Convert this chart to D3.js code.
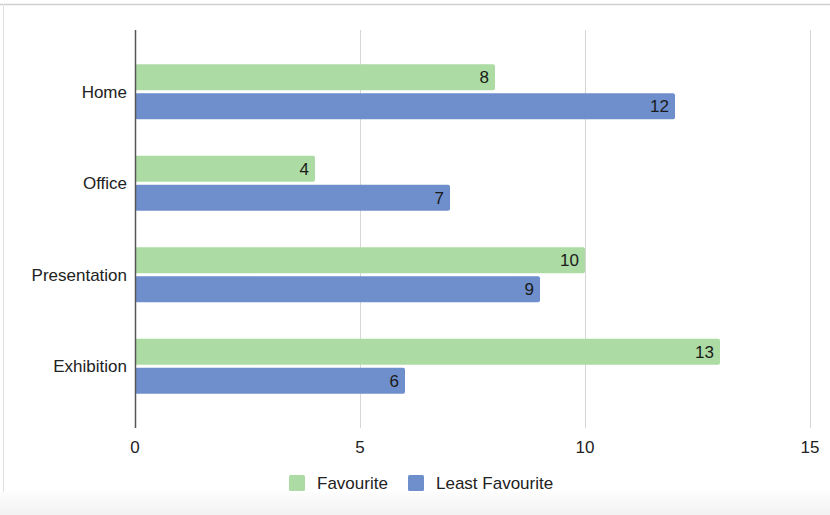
<!DOCTYPE html>
<html>
<head>
<meta charset="utf-8">
<script src="https://cdn.jsdelivr.net/npm/d3@7"></script>
<style>
  body { margin: 0; background: #fff; }
  text { font-family: "Liberation Sans", Arial, sans-serif; }
</style>
</head>
<body>
<script>
  // chart data
  const categories = ["Home", "Office", "Presentation", "Exhibition"];
  const seriesNames = ["Favourite", "Least Favourite"];
  const favourite = [8, 4, 10, 13];
  const leastFavourite = [12, 7, 9, 6];
  const xTicks = [0, 5, 10, 15];
  const colors = ["#acdba3", "#6e8fcb"];

  const W = 830, H = 515;
  const fs = 17;
  const svg = d3.select("body").append("svg")
      .attr("width", W).attr("height", H);

  // frame: top rule, left rule, grey strip at bottom
  const grad = svg.append("defs").append("linearGradient")
      .attr("id", "strip").attr("x1", 0).attr("x2", 0).attr("y1", 0).attr("y2", 1);
  grad.append("stop").attr("offset", 0).attr("stop-color", "#fdfdfd");
  grad.append("stop").attr("offset", 1).attr("stop-color", "#f2f2f2");
  svg.append("rect").attr("x", 0).attr("y", 492).attr("width", W).attr("height", 23).attr("fill", "url(#strip)");
  svg.append("line").attr("x1", 0).attr("x2", W).attr("y1", 4.5).attr("y2", 4.5).attr("stroke", "#cfcfcf").attr("stroke-width", 1.5);
  svg.append("line").attr("x1", 3.5).attr("x2", 3.5).attr("y1", 4).attr("y2", 492).attr("stroke", "#e2e2e2");

  const x = d3.scaleLinear().domain([0, 15]).range([135, 810]);
  const y = d3.scaleBand().domain(categories).range([46, 412]);
  const inner = d3.scaleBand().domain(seriesNames).range([0, 55]).paddingInner(0.1);
  const plotTop = 30, plotBottom = 428;

  // gridlines
  svg.append("g").selectAll("line")
    .data(xTicks.slice(1))
    .join("line")
      .attr("x1", d => Math.round(x(d)) + 0.5).attr("x2", d => Math.round(x(d)) + 0.5)
      .attr("y1", plotTop).attr("y2", plotBottom)
      .attr("stroke", "#d6d6d6");

  // tick labels
  svg.append("g").selectAll("text")
    .data(xTicks)
    .join("text")
      .attr("x", d => x(d)).attr("y", 453)
      .attr("text-anchor", "middle")
      .attr("font-size", fs).attr("fill", "#222")
      .text(d => d);

  const rows = categories.map((c, i) => ({cat: c, vals: [favourite[i], leastFavourite[i]]}));
  const groupTop = c => y(c) + (y.bandwidth() - 55) / 2;

  const g = svg.append("g").selectAll("g")
    .data(rows)
    .join("g")
      .attr("transform", d => `translate(0,${groupTop(d.cat)})`);

  g.selectAll("rect")
    .data(d => d.vals.map((v, k) => ({v, k})))
    .join("rect")
      .attr("x", x(0))
      .attr("y", d => inner(seriesNames[d.k]))
      .attr("width", d => x(d.v) - x(0))
      .attr("height", inner.bandwidth())
      .attr("rx", 2)
      .attr("fill", d => colors[d.k]);

  g.selectAll("text.val")
    .data(d => d.vals.map((v, k) => ({v, k})))
    .join("text")
      .attr("class", "val")
      .attr("x", d => x(d.v) - 6)
      .attr("y", d => inner(seriesNames[d.k]) + inner.bandwidth() / 2 + 6)
      .attr("text-anchor", "end")
      .attr("font-size", fs).attr("fill", "#1a1a1a")
      .text(d => d.v);

  // category labels
  svg.append("g").selectAll("text")
    .data(categories)
    .join("text")
      .attr("x", 127)
      .attr("y", d => y(d) + y.bandwidth() / 2 + 6)
      .attr("text-anchor", "end")
      .attr("font-size", fs).attr("fill", "#222")
      .text(d => d);

  // baseline axis
  svg.append("line")
    .attr("x1", x(0) + 0.5).attr("x2", x(0) + 0.5)
    .attr("y1", plotTop).attr("y2", plotBottom)
    .attr("stroke", "#555").attr("stroke-width", 1.5);

  // legend
  const legendX = [289, 408];
  const leg = svg.append("g").selectAll("g")
    .data(seriesNames)
    .join("g")
      .attr("transform", (d, i) => `translate(${legendX[i]},475)`);
  leg.append("rect").attr("width", 16).attr("height", 16).attr("rx", 1.5)
    .attr("fill", (d, i) => colors[i]);
  leg.append("text").attr("x", 28).attr("y", 14)
    .attr("font-size", fs).attr("fill", "#222")
    .text(d => d);
</script>
</body>
</html>
